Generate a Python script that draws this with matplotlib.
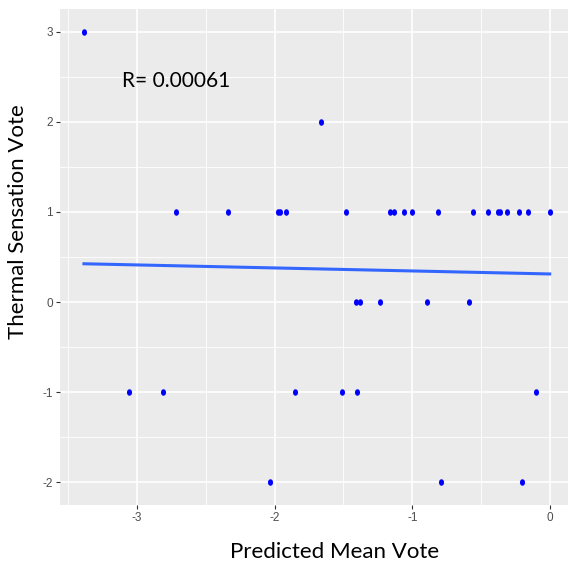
import numpy as np
import matplotlib
matplotlib.use("Agg")
import matplotlib.pyplot as plt
from matplotlib.path import Path
from matplotlib.transforms import Affine2D

plt.rcParams["axes.unicode_minus"] = False

# Data (Predicted Mean Vote vs Thermal Sensation Vote)
pmv = [-3.384, -1.663,
       -2.718, -2.336, -1.975, -1.961, -1.917, -1.484, -1.162, -1.129, -1.057,
       -1.002, -0.813, -0.556, -0.450, -0.378, -0.363, -0.314, -0.225, -0.160, -0.002,
       -1.411, -1.377, -1.231, -0.895, -0.590,
       -3.055, -2.808, -1.853, -1.512, -1.403, -0.100,
       -2.032, -0.790, -0.202]
tsv = [3, 2,
       1, 1, 1, 1, 1, 1, 1, 1, 1,
       1, 1, 1, 1, 1, 1, 1, 1, 1, 1,
       0, 0, 0, 0, 0,
       -1, -1, -1, -1, -1, -1,
       -2, -2, -2]
# Fitted trend line (x range of data, y at ends)
trend_x = [-3.384, -0.002]
trend_y = [0.425, 0.312]
x_ticks = [-3, -2, -1, 0]
y_ticks = [-2, -1, 0, 1, 2, 3]
annotation = "R= 0.00061"

x = np.array(pmv)
y = np.array(tsv)

fig = plt.figure(figsize=(5.68, 5.63), dpi=100)
ax = fig.add_axes([60/568, 58/563, 508/568, 496/563])
ax.set_facecolor("#EBEBEB")
for s in ax.spines.values():
    s.set_visible(False)

ax.set_xticks(x_ticks)
ax.set_yticks(y_ticks)
ax.set_xticks(np.arange(-3.5, 0.1, 0.5), minor=True)
ax.set_yticks(np.arange(-1.5, 3.1, 0.5), minor=True)
ax.set_xlim(-3.558, 0.131)
ax.set_ylim(-2.25, 3.25)
ax.grid(which="major", color="white", linewidth=1.2)
ax.grid(which="minor", color="white", linewidth=0.6)
ax.set_axisbelow(True)
ax.tick_params(which="minor", length=0)
ax.tick_params(which="major", length=3, width=0.8, color="#333333",
               labelcolor="#4D4D4D", labelsize=8.5, pad=2)
for lab in ax.get_xticklabels() + ax.get_yticklabels():
    lab.set_family("Liberation Sans")

# Elliptical point marker
circ = Path.unit_circle()
marker = circ.transformed(Affine2D().scale(0.78, 1.0))
ax.scatter(x, y, s=22, marker=marker, color="#0000FF", linewidths=0, zorder=3)

ax.plot(trend_x, trend_y, color="#3366FF", linewidth=2.2, zorder=2)

ax.text(-3.11, 2.45, annotation, fontsize=15, family="Lato", va="center", ha="left")

ax.set_xlabel("Predicted Mean Vote", fontsize=16, family="Lato")
ax.set_ylabel("Thermal Sensation Vote", fontsize=16, family="Lato")
ax.xaxis.set_label_coords((335 - 60) / 508, -(552 - 505) / 496, transform=ax.transAxes)
ax.yaxis.set_label_coords(-(60 - 18) / 508, (505 - 222) / 496, transform=ax.transAxes)
ax.xaxis.label.set_va("center")
ax.yaxis.label.set_va("center")

fig.savefig("out.png", dpi=100)
